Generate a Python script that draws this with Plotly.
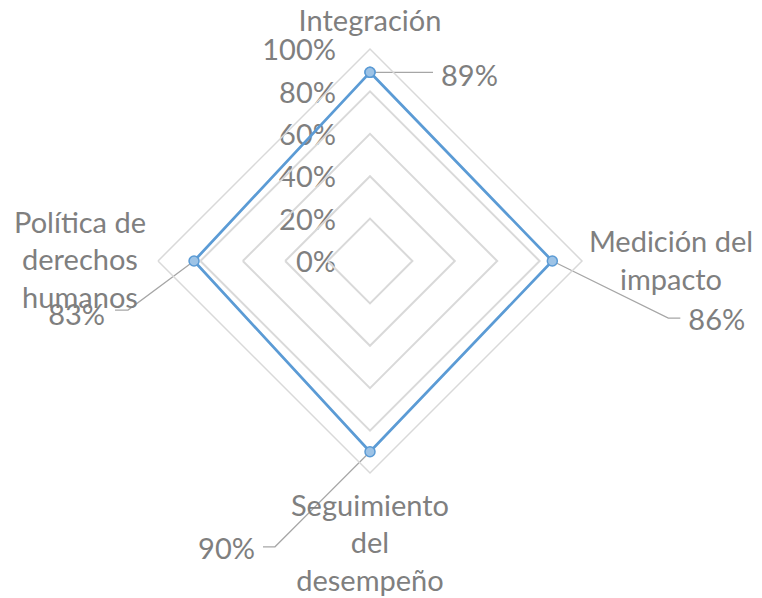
import math
import plotly.graph_objects as go

# Data
categories = ["Integración", "Medición del impacto", "Seguimiento del desempeño", "Política de derechos humanos"]
category_labels = ["Integración", "Medición del<br>impacto", "Seguimiento<br>del<br>desempeño", "Política de<br>derechos<br>humanos"]
values = [0.89, 0.86, 0.90, 0.83]
radial_ticks = [0, 0.2, 0.4, 0.6, 0.8, 1.0]

# Layout constants (page pixels); the page body has an 8px margin
W, H, OFF = 762, 598, 8
CX, CY, R = 370, 261, 212
FONT = "Lato"
FS = 29
GRAY = "#7f7f7f"
BLUE = "#5b9bd5"

# figure-space values
Wf, Hf = W - OFF, H - OFF
CXf, CYf = CX - OFF, CY - OFF

# Leader-line offsets for each data label, in px relative to the point
leader_style = [
    dict(elbow=(63, 0), end=(63, 0), text=(71, 6), pos="middle right"),
    dict(elbow=(116, 57), end=(128, 57), text=(136, 62), pos="middle right"),
    dict(elbow=(-95, 95), end=(-107, 95), text=(-115, 100), pos="middle left"),
    dict(elbow=(-66, 49), end=(-79, 49), text=(-89, 57), pos="middle left"),
]
# category label centre offsets in px from the outer vertex
cat_offsets = [(0, -25), (89, 3), (0, 73), (-78, 2)]
TICK_SHIFT = 4  # px down for radial tick labels

fig = go.Figure()

# main series on the polar subplot (category axis gives the diamond grid)
fig.add_trace(go.Scatterpolar(
    r=values + values[:1], theta=categories + categories[:1],
    mode="lines+markers",
    line=dict(color=BLUE, width=2.75),
    marker=dict(size=10, color="#9dc3e6", line=dict(color=BLUE, width=1.5)),
    hoverinfo="skip", showlegend=False,
))

n = len(values)


def unit(r, i):
    ang = 2 * math.pi * i / n
    return r * math.sin(ang), r * math.cos(ang)


# Data labels with leader lines on a cartesian overlay scaled so 1 unit = radius
for i, (v, st) in enumerate(zip(values, leader_style)):
    px, py = unit(v, i)
    xs = [px, px + st["elbow"][0] / R, px + st["end"][0] / R]
    ys = [py, py - st["elbow"][1] / R, py - st["end"][1] / R]
    fig.add_trace(go.Scatter(
        x=xs, y=ys, mode="lines", line=dict(color="#a6a6a6", width=1.25),
        hoverinfo="skip", showlegend=False,
    ))
    fig.add_trace(go.Scatter(
        x=[px + st["text"][0] / R], y=[py - st["text"][1] / R],
        mode="text", text=[f"{v:.0%}"], textposition=st["pos"],
        textfont=dict(family=FONT, size=FS, color=GRAY),
        cliponaxis=False, hoverinfo="skip", showlegend=False,
    ))

# category labels
cx_list, cy_list = [], []
for i, (dx, dy) in enumerate(cat_offsets):
    ux, uy = unit(1.0, i)
    cx_list.append(ux + dx / R)
    cy_list.append(uy - dy / R)
fig.add_trace(go.Scatter(
    x=cx_list, y=cy_list, mode="text", text=category_labels, textposition="middle center",
    textfont=dict(family=FONT, size=FS, color=GRAY),
    cliponaxis=False, hoverinfo="skip", showlegend=False,
))

# radial tick labels
fig.add_trace(go.Scatter(
    x=[-34 / R] * len(radial_ticks), y=[t - TICK_SHIFT / R for t in radial_ticks], mode="text",
    text=[f"{t:.0%}" for t in radial_ticks], textposition="middle left",
    textfont=dict(family=FONT, size=FS, color=GRAY),
    cliponaxis=False, hoverinfo="skip", showlegend=False,
))

fig.update_layout(
    width=Wf, height=Hf,
    margin=dict(l=0, r=0, t=0, b=0),
    paper_bgcolor="white", plot_bgcolor="rgba(0,0,0,0)",
    font=dict(family=FONT, size=FS, color=GRAY),
    xaxis=dict(range=[-CXf / R, (W - CX) / R], visible=False, domain=[0, 1]),
    yaxis=dict(range=[-(H - CY) / R, CYf / R], visible=False, domain=[0, 1]),
    polar=dict(
        domain=dict(x=[(CXf - R) / Wf, (CXf + R) / Wf], y=[1 - (CYf + R) / Hf, 1 - (CYf - R) / Hf]),
        bgcolor="rgba(0,0,0,0)",
        gridshape="linear",
        radialaxis=dict(
            range=[0, 1], tickvals=radial_ticks,
            angle=90, showline=False, showticklabels=False, ticks="",
            gridcolor="#d9d9d9", gridwidth=1.5,
        ),
        angularaxis=dict(
            direction="clockwise", rotation=90,
            tickvals=categories, showticklabels=False,
            showline=True, linecolor="#d9d9d9", linewidth=1.5,
            showgrid=False, ticks="",
        ),
    ),
)

fig.write_html("out.html")
